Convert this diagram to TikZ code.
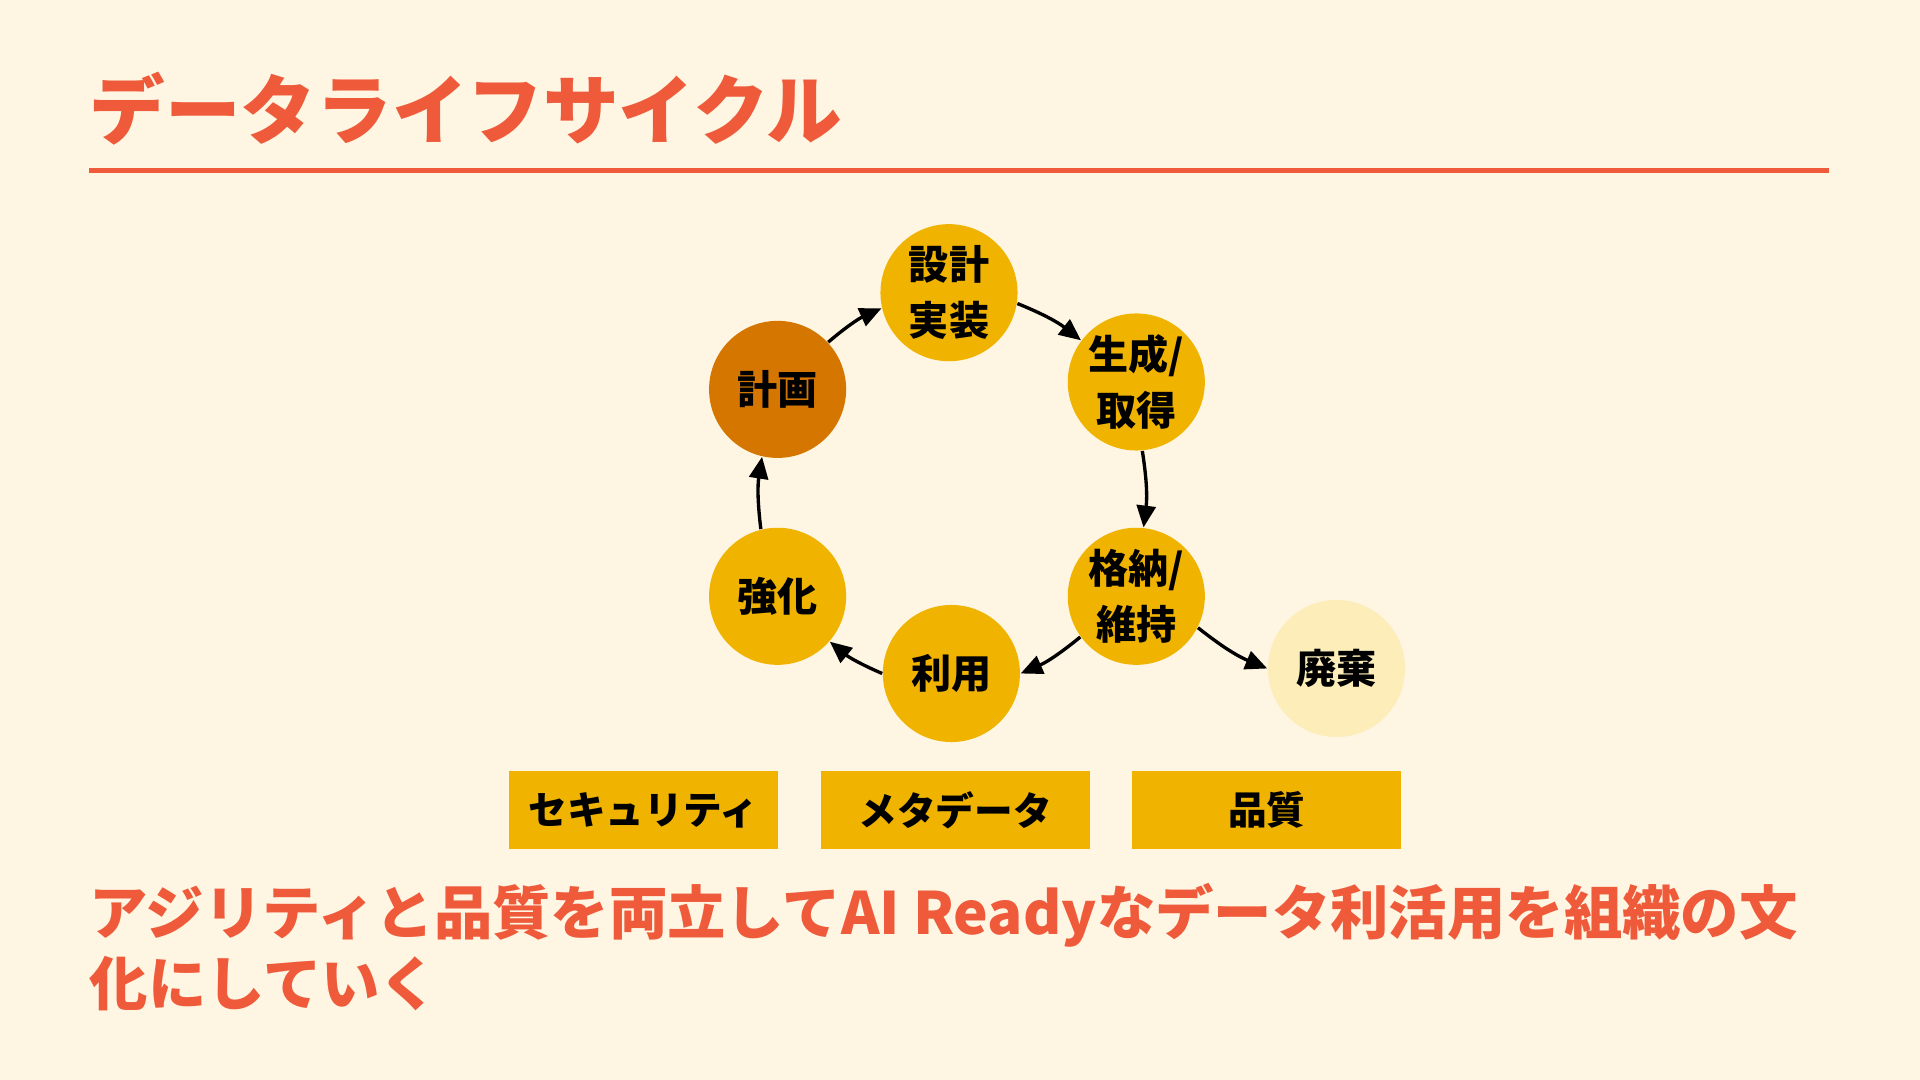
\documentclass[tikz,border=0pt]{standalone}
\usepackage{fontspec}
\setmainfont{Noto Sans CJK JP}
\usetikzlibrary{positioning, arrows.meta}
\definecolor{fondo}{HTML}{FEF5E2}
\definecolor{rojo}{HTML}{EE5A3A}
\definecolor{oro}{HTML}{EFB300}
\definecolor{naranja}{HTML}{D57600}
\definecolor{crema}{HTML}{FCEDB9}

\begin{document}
\begin{tikzpicture}[
            x=0.01cm, y=-0.01cm,
            % Estilos de los nodos
            phase/.style={circle, fill=oro, minimum size=1.37cm, inner sep=0pt, align=center, font=\bfseries\fontsize{11.4}{15.8}\selectfont},
            theme/.style={rectangle, fill=oro, minimum width=2.69cm, minimum height=0.78cm, inner sep=0pt, font=\bfseries\fontsize{11}{13}\selectfont},
            arrow/.style={-{Triangle[length=6.2pt,width=5.4pt]}, line width=0.95pt}
        ]

            % Fondo y título
            \fill[fondo] (0,0) rectangle (1920,1080);
            \node[anchor=base west, inner sep=0pt, text=rojo, font=\bfseries\fontsize{21.5}{25}\selectfont] (titulo) at (89,139) {データライフサイクル};
            \draw[rojo, line width=1.42pt] (89,171) -- (1829,171);

            % Ciclo de vida
            \node[phase, fill=naranja] (plan) at (777.6,389.4) {計画};
            \node[phase] (dis) at (949,292.7) {設計\\実装};
            \node[phase] (gen) at (1136.3,382) {生成/\\取得};
            \node[phase] (alm) at (1136.3,596.3) {格納/\\維持};
            \node[phase] (uso) at (951.4,673.5) {利用};
            \node[phase] (ref) at (777.6,596.3) {強化};
            \node[phase, fill=crema] (desc) at (1336.5,668.5) {廃棄};

            % Conexiones del ciclo
            \draw[arrow] (plan.43) to[bend left=8] (dis.193);
            \draw[arrow] (dis.-9) to[bend left=8] (gen.143);
            \draw[arrow] (gen.-85) to[bend left=8] (alm.84);
            \draw[arrow] (alm.216) to[bend left=8] (uso.0);
            \draw[arrow] (uso.180) to[bend left=8] (ref.-41);
            \draw[arrow] (ref.104) to[bend left=8] (plan.-103);
            \draw[arrow] (alm.-27) to[bend right=8] (desc.180);

            % Temas transversales
            \node[theme] (seg) at (643.5,810) {セキュリティ};
            \node[theme, right=0.41cm of seg] (meta) {メタデータ};
            \node[theme, right=0.41cm of meta] (cal) {品質};

            % Mensaje final
            \node[anchor=base west, inner sep=0pt, align=left, text=rojo, font=\bfseries\fontsize{16.6}{20.2}\selectfont] (mensaje) at (89,1006) {アジリティと品質を両立してAI Readyなデータ利活用を組織の文\\化にしていく};
        \end{tikzpicture}
\end{document}
